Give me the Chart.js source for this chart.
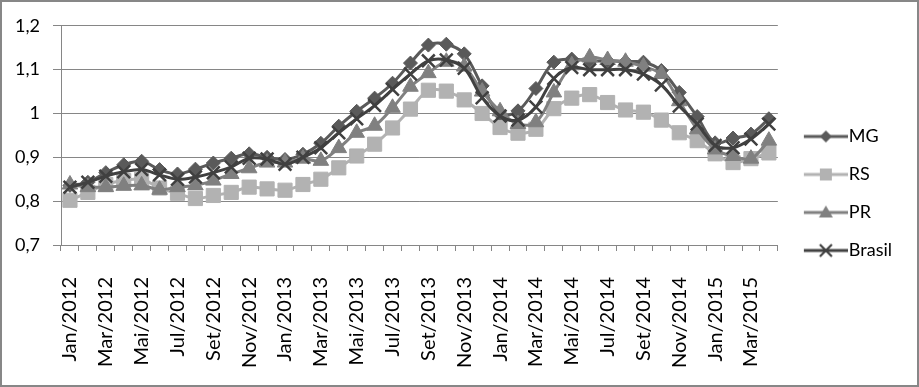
<!DOCTYPE html>
<html><head><meta charset="utf-8">
<script src="https://cdn.jsdelivr.net/npm/chart.js@4.4.1/dist/chart.umd.min.js"></script>
<style>
html,body{margin:0;padding:0;background:#fff;}
#wrap{position:absolute;left:0;top:0;width:919px;height:387px;box-sizing:border-box;border:2px solid #878787;background:#fff;}
canvas{display:block;}
</style></head><body>
<div id="wrap"><canvas id="c" width="915" height="383"></canvas></div>
<script>
const categories = [
 'Jan/2012','Fev/2012','Mar/2012','Abr/2012','Mai/2012','Jun/2012','Jul/2012','Ago/2012','Set/2012','Out/2012','Nov/2012','Dez/2012',
 'Jan/2013','Fev/2013','Mar/2013','Abr/2013','Mai/2013','Jun/2013','Jul/2013','Ago/2013','Set/2013','Out/2013','Nov/2013','Dez/2013',
 'Jan/2014','Fev/2014','Mar/2014','Abr/2014','Mai/2014','Jun/2014','Jul/2014','Ago/2014','Set/2014','Out/2014','Nov/2014','Dez/2014',
 'Jan/2015','Fev/2015','Mar/2015','Abr/2015'];
const xTickLabels = ['Jan/2012','Mar/2012','Mai/2012','Jul/2012','Set/2012','Nov/2012','Jan/2013','Mar/2013','Mai/2013','Jul/2013','Set/2013','Nov/2013',
 'Jan/2014','Mar/2014','Mai/2014','Jul/2014','Set/2014','Nov/2014','Jan/2015','Mar/2015'];
const yTickValues = [0.7, 0.8, 0.9, 1, 1.1, 1.2];

const MG = [0.836,0.843,0.865,0.883,0.891,0.872,0.862,0.873,0.887,0.898,0.908,0.900,
 0.895,0.907,0.932,0.971,1.005,1.035,1.069,1.115,1.156,1.158,1.136,1.063,
 0.998,1.006,1.057,1.117,1.124,1.120,1.120,1.118,1.117,1.098,1.048,0.993,
 0.933,0.944,0.953,0.988];
const RS = [0.802,0.820,0.838,0.847,0.850,0.830,0.818,0.806,0.813,0.820,0.832,0.828,
 0.825,0.838,0.850,0.876,0.903,0.930,0.967,1.010,1.053,1.051,1.031,1.000,
 0.968,0.955,0.964,1.011,1.035,1.043,1.025,1.008,1.003,0.985,0.956,0.938,
 0.908,0.888,0.897,0.910];
const PR = [0.838,0.832,0.832,0.835,0.836,0.826,0.832,0.836,0.847,0.862,0.875,0.888,
 0.888,0.897,0.892,0.921,0.956,0.972,1.013,1.061,1.092,1.118,1.107,1.050,
 1.005,0.976,0.980,1.048,1.110,1.128,1.122,1.118,1.107,1.090,1.028,0.964,
 0.918,0.903,0.897,0.938];
const BRASIL = [0.832,0.843,0.857,0.867,0.872,0.860,0.850,0.855,0.865,0.878,0.898,0.896,
 0.884,0.900,0.922,0.956,0.988,1.018,1.055,1.090,1.120,1.122,1.103,1.036,
 0.994,0.985,1.015,1.080,1.105,1.100,1.100,1.100,1.090,1.065,1.017,0.976,
 0.927,0.922,0.942,0.976];

const FONT = {family:'Lato', size:18};
const XFONT = {family:'Lato', size:20};

function icon(color, kind) {
  const cv = document.createElement('canvas');
  cv.width = 58; cv.height = 20;
  const g = cv.getContext('2d');
  g.strokeStyle = color; g.fillStyle = color; g.lineWidth = 3;
  g.beginPath(); g.moveTo(14,10); g.lineTo(58,10); g.stroke();
  const cx = 36, cy = 10;
  g.beginPath();
  if (kind === 'd') { g.moveTo(cx, cy-6); g.lineTo(cx+6, cy); g.lineTo(cx, cy+6); g.lineTo(cx-6, cy); g.closePath(); g.fill(); }
  else if (kind === 's') { g.rect(cx-6, cy-6, 12, 12); g.fill(); }
  else if (kind === 't') { g.moveTo(cx, cy-7); g.lineTo(cx+7, cy+5); g.lineTo(cx-7, cy+5); g.closePath(); g.fill(); }
  else { g.lineWidth = 2.2; g.moveTo(cx-6, cy-6); g.lineTo(cx+6, cy+6); g.moveTo(cx+6, cy-6); g.lineTo(cx-6, cy+6); g.stroke(); }
  return cv;
}

const styles = [
  {name:'MG', data:MG, color:'#5a5a5a', ps:'rectRot', r:7, bw:1, icon:'d', order:4},
  {name:'RS', data:RS, color:'#b2b2b2', ps:'rect', r:10, bw:1, icon:'s', order:3},
  {name:'PR', data:PR, color:'#808080', ps:'triangle', r:9, bw:1, icon:'t', order:2},
  {name:'Brasil', data:BRASIL, color:'#404040', ps:'crossRot', r:9, bw:2.5, icon:'x', order:1}
];
const icons = styles.map(s => icon(s.color, s.icon));

const legendShift = {
  id: 'legendShift',
  afterLayout(chart) {
    const l = chart.legend;
    if (l) { l.top -= 11; l.bottom -= 11; }
  }
};

new Chart(document.getElementById('c'), {
  type: 'line',
  data: {
    labels: categories,
    datasets: styles.map(s => ({
      label: s.name, data: s.data, order: s.order,
      borderColor: s.color, backgroundColor: s.color, borderWidth: 3,
      pointStyle: s.ps, pointRadius: s.r, pointBorderWidth: s.bw,
      pointBackgroundColor: s.color, pointBorderColor: s.color,
      tension: 0.35, fill: false
    }))
  },
  plugins: [legendShift],
  options: {
    responsive: false, animation: false,
    layout: {padding: {left: 0, top: 22, right: 15, bottom: 0}},
    plugins: {
      tooltip: {enabled: false},
      legend: {
        position: 'right', align: 'center',
        labels: {
          usePointStyle: true, pointStyleWidth: 42, padding: 20, color: '#000', font: FONT,
          generateLabels: (chart) => {
            const items = Chart.defaults.plugins.legend.labels.generateLabels(chart);
            items.sort((a,b) => a.datasetIndex - b.datasetIndex);
            items.forEach(it => { it.pointStyle = icons[it.datasetIndex]; });
            return items;
          }
        }
      }
    },
    scales: {
      x: {
        offset: true,
        grid: {display: true, drawOnChartArea: false, drawTicks: true, tickLength: 6, color: '#868686', offset: true},
        border: {display: true, color: '#868686'},
        ticks: {autoSkip: false, maxRotation: 90, minRotation: 90, padding: 26, color: '#000', font: XFONT,
          callback: function(v, i) { const l = categories[i]; return xTickLabels.includes(l) ? l : ''; }},
        afterFit: (s) => { s.height = 140; }
      },
      y: {
        min: 0.7, max: 1.2,
        afterBuildTicks: (s) => { s.ticks = yTickValues.map(v => ({value: v})); },
        grid: {color: '#868686', tickLength: 8},
        border: {display: true, color: '#868686'},
        ticks: {padding: 13, color: '#000', font: FONT,
          callback: (v) => String(+Number(v).toFixed(1)).replace('.', ',')},
        afterFit: (s) => { s.width = 59; }
      }
    }
  }
});
</script>
</body></html>
